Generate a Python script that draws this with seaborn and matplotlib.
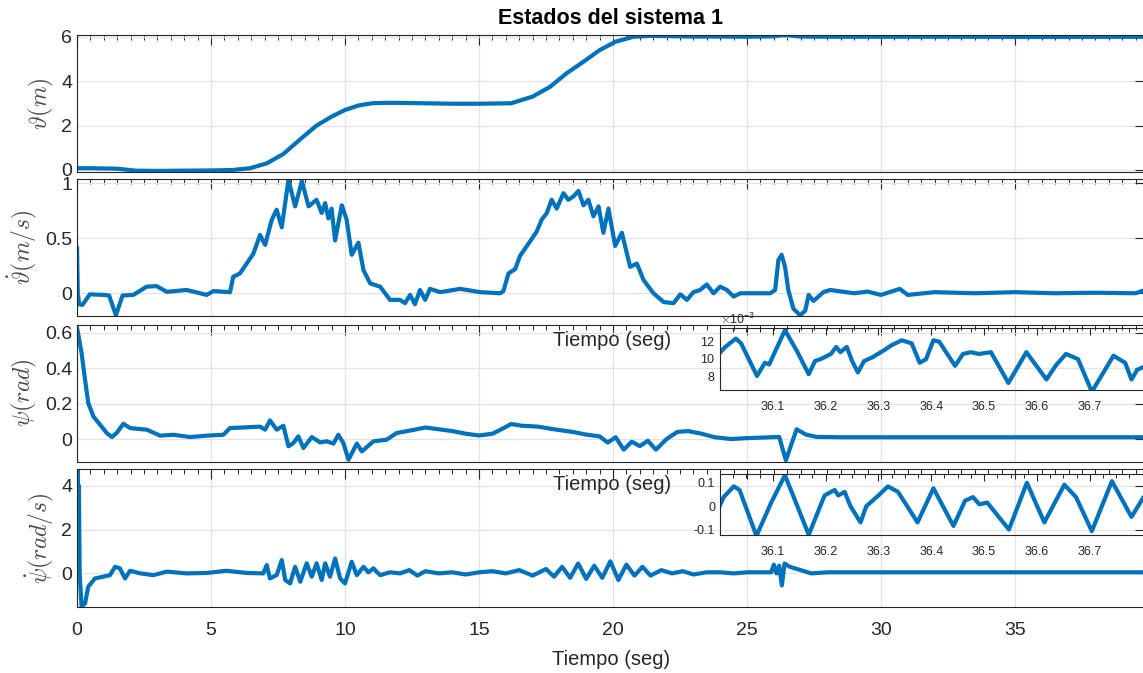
import matplotlib
matplotlib.use("Agg")
import matplotlib.pyplot as plt
import seaborn as sns
from matplotlib.ticker import MultipleLocator, FixedLocator, FuncFormatter, ScalarFormatter

# ---------------------------------------------------------------- data
# position  theta (m)
t_pos = [0.0, 0.5, 1.0, 1.5, 1.8, 2.2, 3.0, 4.0, 5.0, 5.8, 6.46, 7.08, 7.7, 8.3,
         8.94, 9.5, 10.0, 10.5, 11.0, 11.5, 12.0, 13.0, 14.0, 15.0, 16.2, 17.0,
         17.65, 18.27, 18.9, 19.5, 20.1, 20.76, 21.4, 22.0, 23.0, 24.0, 25.0,
         26.0, 26.3, 26.6, 27.0, 28.0, 30.0, 33.0, 36.0, 39.85]
pos = [0.08, 0.08, 0.07, 0.06, 0.02, -0.03, -0.04, -0.03, -0.02, 0.0, 0.08, 0.3,
       0.72, 1.35, 2.0, 2.4, 2.7, 2.9, 3.0, 3.02, 3.02, 3.0, 2.98, 2.98, 3.0, 3.3,
       3.74, 4.35, 4.87, 5.39, 5.77, 5.99, 6.03, 6.02, 6.0, 6.0, 5.99, 6.01, 6.06,
       6.05, 6.0, 5.99, 5.99, 5.99, 5.98, 5.99]

# velocity  d(theta)/dt (m/s)
t_vel = [0.0, 0.03, 0.08, 0.2, 0.48, 1.0, 1.2, 1.45, 1.7, 2.1, 2.6, 2.97, 3.35,
         4.09, 4.84, 5.09, 5.71, 5.83, 6.08, 6.33, 6.58, 6.83, 7.02, 7.27, 7.45,
         7.64, 7.89, 8.14, 8.39, 8.64, 8.94, 9.13, 9.26, 9.38, 9.5, 9.63, 9.88,
         10.06, 10.25, 10.5, 10.69, 10.94, 11.31, 11.68, 12.05, 12.24, 12.43,
         12.61, 12.8, 12.99, 13.17, 13.55, 14.3, 15.04, 15.79, 15.91, 16.1, 16.35,
         16.53, 16.9, 17.15, 17.34, 17.53, 17.71, 17.9, 18.15, 18.33, 18.52, 18.71,
         18.9, 19.08, 19.27, 19.46, 19.64, 19.83, 20.08, 20.33, 20.64, 20.89,
         21.14, 21.51, 21.89, 22.26, 22.51, 22.76, 23.0, 23.25, 23.5, 23.75, 24.0,
         24.25, 24.5, 24.75, 25.0, 25.87, 26.05, 26.17, 26.29, 26.42, 26.54,
         26.73, 26.98, 27.17, 27.3, 27.48, 27.85, 28.1, 29.0, 29.5, 30.0, 30.7,
         31.0, 32.0, 33.5, 35.0, 36.5, 38.0, 39.5, 39.85]
vel = [0.42, 0.0, -0.1, -0.106, -0.01, -0.015, -0.02, -0.2, -0.02, -0.015, 0.06,
       0.065, 0.013, 0.03, -0.015, 0.02, 0.01, 0.15, 0.18, 0.27, 0.36, 0.53, 0.44,
       0.67, 0.76, 0.6, 1.03, 0.79, 1.02, 0.79, 0.85, 0.73, 0.82, 0.68, 0.77,
       0.48, 0.8, 0.67, 0.35, 0.46, 0.21, 0.09, 0.06, -0.06, -0.06, -0.09, -0.015,
       -0.1, 0.03, -0.06, 0.04, 0.01, 0.04, 0.01, 0.0, 0.02, 0.18, 0.22, 0.34,
       0.47, 0.56, 0.67, 0.73, 0.85, 0.77, 0.91, 0.85, 0.88, 0.93, 0.8, 0.85,
       0.7, 0.79, 0.55, 0.77, 0.43, 0.55, 0.24, 0.27, 0.12, 0.0, -0.08, -0.09,
       -0.01, -0.06, 0.01, 0.03, 0.08, 0.0, 0.06, 0.03, -0.03, 0.0, 0.0, 0.0,
       0.03, 0.3, 0.35, 0.24, 0.03, -0.14, -0.2, -0.16, -0.015, -0.07, 0.01,
       0.03, 0.0, 0.015, -0.015, 0.04, -0.015, 0.01, 0.0, 0.01, 0.0, 0.005, 0.0,
       0.03]

# heading  psi (rad)
t_psi = [0.0, 0.17, 0.3, 0.42, 0.61, 0.86, 1.11, 1.3, 1.48, 1.73, 1.98, 2.36, 2.6,
         3.1, 3.6, 4.22, 4.84, 5.46, 5.71, 6.33, 6.83, 7.02, 7.2, 7.45, 7.7, 7.89,
         8.07, 8.26, 8.45, 8.76, 9.07, 9.32, 9.57, 9.75, 9.94, 10.13, 10.44,
         10.63, 11.06, 11.55, 11.93, 12.5, 13.0, 13.5, 14.0, 14.5, 15.0, 15.5,
         15.9, 16.2, 16.6, 17.2, 17.8, 18.5, 19.0, 19.5, 19.8, 20.1, 20.4, 20.7,
         21.0, 21.3, 21.6, 22.0, 22.4, 22.8, 23.3, 23.8, 24.4, 25.0, 25.9, 26.2,
         26.45, 26.85, 27.2, 27.6, 28.5, 31.0, 34.0, 37.0, 39.85]
psi = [0.63, 0.487, 0.335, 0.204, 0.128, 0.081, 0.034, 0.011, 0.034, 0.086,
       0.062, 0.056, 0.053, 0.019, 0.024, 0.011, 0.019, 0.024, 0.062, 0.066,
       0.07, 0.053, 0.105, 0.053, 0.075, -0.041, -0.023, 0.015, -0.051, 0.011,
       -0.019, -0.013, -0.026, 0.024, -0.023, -0.117, -0.026, -0.07, -0.013,
       -0.004, 0.034, 0.05, 0.065, 0.055, 0.045, 0.03, 0.02, 0.03, 0.06, 0.085,
       0.075, 0.07, 0.055, 0.04, 0.025, 0.015, -0.02, 0.01, -0.06, -0.015,
       -0.04, -0.01, -0.06, 0.0, 0.04, 0.045, 0.03, 0.01, 0.0, 0.005, 0.01,
       0.012, -0.12, 0.055, 0.025, 0.012, 0.01, 0.01, 0.01, 0.01, 0.01]

# heading rate  d(psi)/dt (rad/s)
t_rate = [0.0, 0.02, 0.05, 0.07, 0.1, 0.17, 0.3, 0.42, 0.67, 0.98, 1.23, 1.42,
          1.6, 1.79, 1.98, 2.36, 2.85, 3.35, 4.09, 4.84, 5.58, 6.33, 6.95, 7.08,
          7.2, 7.45, 7.64, 7.77, 7.95, 8.14, 8.33, 8.57, 8.76, 8.94, 9.13, 9.26,
          9.44, 9.63, 9.82, 10.0, 10.25, 10.44, 10.69, 10.87, 11.06, 11.31, 11.68,
          12.05, 12.4, 12.7, 13.0, 13.5, 14.0, 14.5, 15.0, 15.5, 16.0, 16.5, 17.0,
          17.5, 17.8, 18.1, 18.4, 18.7, 19.0, 19.3, 19.6, 19.9, 20.2, 20.5, 20.8,
          21.1, 21.4, 21.8, 22.2, 22.6, 23.0, 23.5, 24.0, 24.5, 25.0, 25.9, 26.0,
          26.1, 26.2, 26.3, 26.4, 26.6, 27.0, 27.4, 28.0, 30.0, 32.0, 34.0, 36.0,
          38.0, 39.85]
rate = [0.0, 4.75, 2.0, 4.0, 0.0, -1.52, -1.37, -0.61, -0.23, -0.15, -0.08, 0.3,
        0.23, -0.23, 0.12, 0.0, -0.08, 0.08, 0.0, 0.02, 0.12, 0.02, 0.0, 0.38,
        -0.23, -0.08, 0.61, -0.3, -0.46, 0.3, -0.38, 0.46, -0.15, 0.46, -0.3,
        0.46, -0.15, 0.68, -0.23, -0.46, 0.53, -0.08, 0.3, 0.05, 0.23, -0.08,
        0.05, 0.0, 0.15, -0.1, 0.1, 0.0, 0.05, -0.05, 0.05, 0.1, 0.0, 0.15, -0.1,
        0.2, -0.15, 0.3, -0.2, 0.45, -0.25, 0.35, -0.2, 0.55, -0.3, 0.4, -0.1,
        0.3, -0.1, 0.15, 0.0, 0.1, -0.05, 0.05, 0.05, 0.0, 0.05, 0.05, 0.4, 0.0,
        0.35, -0.55, 0.45, 0.3, 0.15, 0.0, 0.05, 0.05, 0.05, 0.05, 0.05, 0.05,
        0.05]

# zoomed windows of psi and d(psi)/dt around t = 36 s
t_zoom_psi = [35.99, 36.01, 36.03, 36.04, 36.07, 36.085, 36.093, 36.123, 36.145,
              36.168, 36.18, 36.19, 36.21, 36.22, 36.228, 36.24, 36.25, 36.261,
              36.273, 36.288, 36.31, 36.325, 36.344, 36.363, 36.378, 36.39,
              36.404, 36.415, 36.445, 36.46, 36.475, 36.49, 36.513, 36.546,
              36.58, 36.618, 36.636, 36.655, 36.678, 36.704, 36.745, 36.767,
              36.779, 36.79, 36.819]
zoom_psi = [0.0100, 0.0113, 0.01225, 0.0117, 0.0080, 0.0095, 0.0093, 0.0132,
            0.0109, 0.0082, 0.0097, 0.0099, 0.0105, 0.0113, 0.0107, 0.0113,
            0.0097, 0.0084, 0.0097, 0.0101, 0.0109, 0.0115, 0.01205, 0.0117,
            0.0095, 0.0099, 0.01205, 0.0119, 0.00915, 0.0105, 0.0107, 0.0105,
            0.0107, 0.0072, 0.0107, 0.0076, 0.0092, 0.0105, 0.0099, 0.0062,
            0.0103, 0.0095, 0.0076, 0.0087, 0.0095]

t_zoom_rate = [35.99, 36.007, 36.026, 36.037, 36.069, 36.097, 36.123, 36.168,
               36.198, 36.217, 36.224, 36.236, 36.247, 36.266, 36.277, 36.3,
               36.318, 36.337, 36.374, 36.404, 36.442, 36.464, 36.479, 36.491,
               36.506, 36.547, 36.581, 36.614, 36.652, 36.674, 36.704, 36.742,
               36.779, 36.802, 36.82]
zoom_rate = [-0.045, 0.038, 0.083, 0.068, -0.125, 0.015, 0.13, -0.12, 0.045,
             0.068, 0.045, 0.06, 0.0, -0.068, 0.0, 0.045, 0.083, 0.06, -0.068,
             0.075, -0.083, 0.023, 0.038, 0.008, 0.015, -0.098, 0.098, -0.068,
             0.09, 0.038, -0.105, 0.105, -0.045, 0.038, 0.03]

x_ticks = [0, 5, 10, 15, 20, 25, 30, 35]
zoom_x_ticks = [36.1, 36.2, 36.3, 36.4, 36.5, 36.6, 36.7]

# ---------------------------------------------------------------- style
sns.set_theme(style="white")
plt.rcParams["font.family"] = ["Liberation Sans", "DejaVu Sans"]
plt.rcParams["mathtext.fontset"] = "cm"

BLUE = "#0072BD"
INK = "#262626"
GRID = "#e3e3e3"
W, H = 1143, 673

fig = plt.figure(figsize=(W / 100, H / 100), dpi=100)
fig.patch.set_facecolor("white")


def axes_px(left, top, right, bottom):
    return fig.add_axes([left / W, 1 - bottom / H, (right - left) / W, (bottom - top) / H])


def style(ax, size=14, major=7, minor=3.5):
    for s in ax.spines.values():
        s.set_color(INK)
        s.set_linewidth(0.8)
    ax.tick_params(which="both", direction="in", top=True, right=True,
                   colors=INK, labelcolor=INK, labelsize=size)
    ax.tick_params(which="major", length=major, width=0.8)
    ax.tick_params(which="minor", length=minor, width=0.7)


fmt = FuncFormatter(lambda v, _: f"{v:g}")

panels = [
    (t_pos, pos, (-0.09, 6.07), [0, 2, 4, 6], r"$\vartheta(m)$", 35, 172),
    (t_vel, vel, (-0.204, 1.039), [0, 0.5, 1], r"$\dot{\vartheta}(m/s)$", 179, 315.7),
    (t_psi, psi, (-0.127, 0.647), [0, 0.2, 0.4, 0.6], r"$\psi(rad)$", 324.5, 461.5),
    (t_rate, rate, (-1.52, 4.75), [0, 2, 4], r"$\dot{\psi}(rad/s)$", 469.3, 606.7),
]

axes = []
for i, (tx, vy, ylim, yt, lab, top, bot) in enumerate(panels):
    ax = axes_px(77, top, 1145, bot)
    sns.lineplot(x=tx, y=vy, ax=ax, color=BLUE, linewidth=3.0,
                 estimator=None, sort=False, legend=False)
    ax.set_xlim(0, 39.85)
    ax.set_ylim(*ylim)
    ax.xaxis.set_major_locator(FixedLocator(x_ticks))
    ax.xaxis.set_minor_locator(MultipleLocator(0.5))
    ax.yaxis.set_major_locator(FixedLocator(yt))
    ax.yaxis.set_major_formatter(fmt)
    ax.grid(True, which="major", color=GRID, linewidth=0.9)
    ax.set_axisbelow(True)
    style(ax)
    ax.tick_params(axis="x", pad=11)
    ax.set_ylabel(lab, fontsize=17, color="#4a4a4a", labelpad=4)
    ax.set_xlabel("")
    if i < 3:
        ax.tick_params(axis="x", labelbottom=False)
    axes.append(ax)

axes[0].set_title("Estados del sistema 1", fontsize=15.5, fontweight="bold",
                  color="black", pad=8)
axes[3].set_xlabel("Tiempo (seg)", fontsize=14.5, color=INK, labelpad=8)

# ---------------------------------------------------------------- zoom windows
def zoom_window(top, bot, tx, vy, ylim, yt, sci):
    ax = axes_px(720, top, 1151, bot)
    ax.set_facecolor("none")
    sns.lineplot(x=tx, y=vy, ax=ax, color=BLUE, linewidth=3.0,
                 estimator=None, sort=False, legend=False)
    ax.set_xlim(36.0, 36.816)
    ax.set_ylim(*ylim)
    ax.xaxis.set_major_locator(FixedLocator(zoom_x_ticks))
    ax.xaxis.set_minor_locator(MultipleLocator(0.025))
    ax.yaxis.set_major_locator(FixedLocator(yt))
    if sci:
        sf = ScalarFormatter(useMathText=True)
        sf.set_powerlimits((-3, -3))
        ax.yaxis.set_major_formatter(sf)
        ax.yaxis.get_offset_text().set_fontsize(9)
        ax.yaxis.get_offset_text().set_color(INK)
    else:
        ax.yaxis.set_major_formatter(fmt)
    ax.grid(False)
    style(ax, size=9, major=5, minor=3)
    ax.tick_params(axis="x", pad=8)
    ax.set_xlabel("")
    ax.set_ylabel("")
    return ax


zoom_window(328, 390, t_zoom_psi, zoom_psi, (0.0064, 0.01345),
            [0.008, 0.010, 0.012], True)
zoom_window(474, 535, t_zoom_rate, zoom_rate, (-0.121, 0.135),
            [-0.1, 0.0, 0.1], False)

fig.text(553 / W, 1 - 341 / H, "Tiempo (seg)", fontsize=14.5, color=INK,
         ha="left", va="center")
fig.text(553 / W, 1 - 485 / H, "Tiempo (seg)", fontsize=14.5, color=INK,
         ha="left", va="center")

fig.savefig("out.png", dpi=100)
